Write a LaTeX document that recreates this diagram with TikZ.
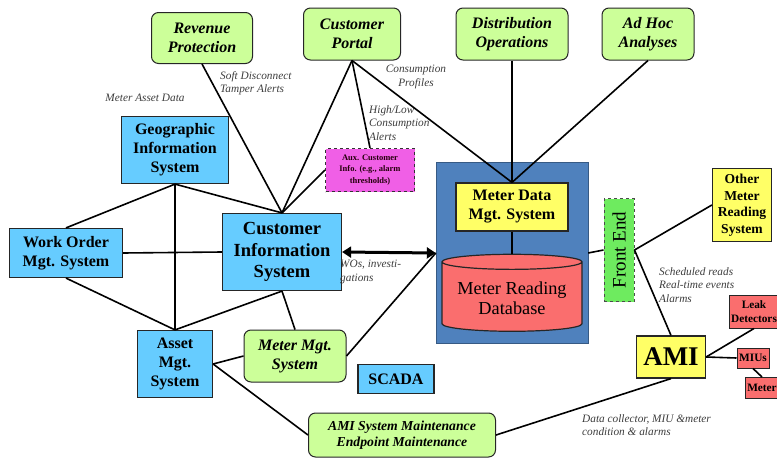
\documentclass[tikz,border=0pt]{standalone}
\usepackage{fontspec}
\setmainfont{Liberation Serif}
\usepackage{graphicx}
\usetikzlibrary{shapes.geometric, arrows.meta}

\definecolor{boxgreen}{RGB}{204,255,153}
\definecolor{boxblue}{RGB}{102,204,255}
\definecolor{boxyellow}{RGB}{255,255,102}
\definecolor{boxred}{RGB}{250,110,110}
\definecolor{boxpink}{RGB}{240,95,230}
\definecolor{fegreen}{RGB}{110,235,95}
\definecolor{mdmblue}{RGB}{79,129,189}
\definecolor{labelgray}{RGB}{60,60,60}

\begin{document}
\begin{tikzpicture}[x=1pt, y=-1pt,
  app/.style={draw=black!85, line width=1pt, rounded corners=7pt, fill=boxgreen, align=center,
    inner sep=1pt, font=\fontsize{16}{19}\selectfont\bfseries\itshape},
  sys/.style={draw=black!85, line width=1.2pt, fill=boxblue, align=center,
    inner sep=1pt, font=\fontsize{16}{19}\selectfont\bfseries},
  mdr/.style={draw=black!85, line width=1.2pt, fill=boxyellow, align=center,
    inner sep=1pt, font=\fontsize{16}{19}\selectfont\bfseries},
  dev/.style={draw=black!85, line width=1pt, fill=boxred, align=center,
    inner sep=2pt, font=\fontsize{11.3}{14}\selectfont\bfseries},
  lbl/.style={text=labelgray, inner sep=0pt, font=\fontsize{11.3}{13.5}\selectfont\itshape},
  link/.style={line width=1.6pt}]
  \useasboundingbox (0,0) rectangle (777,458);

  \node[fill=mdmblue, draw=mdmblue!70!black, minimum width=152pt, minimum height=181pt] (mrs) at (512,253) {};

  \node[app, minimum width=101pt, minimum height=51pt] (rev) at (202,38) {Revenue\\Protection};
  \node[app, minimum width=97pt, minimum height=52pt] (portal) at (352,34) {Customer\\Portal};
  \node[app, minimum width=112pt, minimum height=52pt] (dist) at (512,34) {Distribution\\Operations};
  \node[app, minimum width=92pt, minimum height=52pt] (adhoc) at (648,34) {Ad Hoc\\Analyses};

  \node[sys, minimum width=107pt, minimum height=67pt] (gis) at (175,150) {Geographic\\Information\\System};
  \node[draw=black!80, dashed, line width=1.2pt, fill=boxpink, text=black!80!purple, align=center,
    inner sep=1pt, minimum width=89pt, minimum height=43pt, font=\fontsize{8.5}{11.3}\selectfont\bfseries]
    (aux) at (370,170) {Aux. Customer\\Info. (e.g., alarm\\thresholds)};
  \node[sys, minimum width=113pt, minimum height=49pt] (wo) at (66,253) {Work Order\\Mgt. System};
  \node[sys, minimum width=119pt, minimum height=77pt, font=\fontsize{18.5}{21.5}\selectfont\bfseries]
    (cis) at (282,252) {Customer\\Information\\System};
  \node[sys, minimum width=75pt, minimum height=67pt] (asset) at (175,364) {Asset\\Mgt.\\System};
  \node[app, minimum width=102pt, minimum height=52pt] (mmgt) at (295,356) {Meter Mgt.\\System};
  \node[sys, minimum width=76pt, minimum height=29pt] (scada) at (396,379) {SCADA};
  \node[app, minimum width=187pt, minimum height=44pt, font=\fontsize{13.7}{16}\selectfont\bfseries\itshape]
    (maint) at (402,435) {AMI System Maintenance\\Endpoint Maintenance};

  \node[mdr, minimum width=112pt, minimum height=48pt] (mdm) at (512,207) {Meter Data\\Mgt. System};
  \node[cylinder, shape border rotate=90, aspect=0.13, draw=black!85, line width=1.2pt, fill=boxred,
    minimum width=140pt, minimum height=77pt, align=center, font=\fontsize{18.3}{20}\selectfont]
    (db) at (512,298) {Meter Reading\\Database};
  \node[draw=black!70, dashed, line width=1pt, fill=fegreen, minimum width=30pt, minimum height=103pt,
    inner sep=0pt, font=\fontsize{19}{22}\selectfont] (fe) at (619,250) {\rotatebox{90}{Front End}};
  \node[mdr, minimum width=59pt, minimum height=73pt, font=\fontsize{13.6}{16.5}\selectfont\bfseries]
    (other) at (742,205) {Other\\Meter\\Reading\\System};
  \node[mdr, minimum width=69pt, minimum height=42pt, font=\fontsize{27}{30}\selectfont\bfseries]
    (ami) at (671,357) {AMI};
  \node[dev, minimum height=33pt] (leak) at (754,311.5) {Leak\\Detectors};
  \node[dev, minimum width=32pt, minimum height=20pt] (mius) at (753,358) {MIUs};
  \node[dev, minimum height=21pt] (meter) at (762,388) {Meter};

  \node[lbl] (lasset) at (145,98) {Meter Asset Data};
  \node[lbl, anchor=west, align=left] (lsoft) at (220,83) {Soft Disconnect\\Tamper Alerts};
  \node[lbl, align=center] (lcons) at (416,77) {Consumption\\Profiles};
  \node[lbl, anchor=west, align=left] (lhilo) at (369,123) {High/Low\\Consumption\\Alerts};
  \node[lbl, anchor=west, align=left] (lwos) at (340,272) {WOs, investi-\\gations};
  \node[lbl, anchor=west, align=left] (lsched) at (659,285) {Scheduled reads\\Real-time events\\Alarms};
  \node[lbl, anchor=west, align=left] (ldata) at (582,425) {Data collector, MIU \&meter\\condition \& alarms};

  \draw[link] (rev.south) -- (cis.north);
  \draw[link] (portal.south) -- (cis.north);
  \draw[link] (portal.south) -- (aux.north);
  \draw[link] (portal.south) -- (mdm.north);
  \draw[link] (dist.south) -- (mdm.north);
  \draw[link] (adhoc.south) -- (mdm.north);
  \draw[link] (aux.west) -- (cis.north);
  \draw[link] (gis.south) -- (wo.north);
  \draw[link] (gis.south) -- (asset.north);
  \draw[link] (gis.south) -- (cis.north);
  \draw[link] (wo.east) -- (cis.west);
  \draw[link] (wo.south) -- (asset.north);
  \draw[link] (cis.south) -- (asset.north);
  \draw[link] (cis.south) -- (mmgt.north);
  \draw[line width=3pt, {Triangle[length=9pt,width=11pt]}-{Triangle[length=9pt,width=11pt]}] (cis.east) -- (mrs.west);
  \draw[link] (mmgt.east) -- (mrs.west);
  \draw[link] (asset.east) -- (mmgt.west);
  \draw[link] (asset.east) -- (maint.west);
  \draw[link] (maint.east) -- (ami.south);
  \draw[link] (mdm.south) -- (db.north);
  \draw[link] (mrs.east) -- (fe.west);
  \draw[link] (fe.east) -- (other.west);
  \draw[link] (fe.east) -- (ami.north);
  \draw[link] (ami.east) -- (leak.south);
  \draw[link] (ami.east) -- (mius.west);
  \draw[link] (mius.south) -- (meter.north);

\end{tikzpicture}
\end{document}
